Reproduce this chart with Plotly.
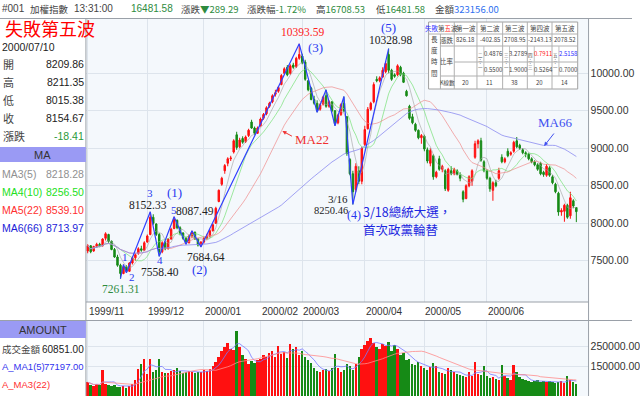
import plotly.graph_objects as go
import pandas as pd

W, H = 640, 396

# ---------------- data ----------------
month_labels = ["1999/11", "1999/12", "2000/01", "2000/02", "2000/03", "2000/04", "2000/05", "2000/06"]
month_days = [20, 19, 19, 14, 21, 20, 21, 22, 9]

opens = [7630, 7700, 7630, 7690, 7720, 7700, 7800, 7850, 7760, 7650, 7550, 7440, 7330, 7420, 7360, 7470, 7540, 7600, 7660, 7640,
         7750, 7850, 8080, 7990, 7850, 7620, 7740, 7660, 7790, 7930, 8040, 7940, 7870, 7800, 7740, 7830, 7880, 7790, 7710,
         7750, 7800, 7830, 7900, 8000, 8290, 8520, 8700, 8800, 8860, 8950, 9180, 9020, 9130, 9090, 9170, 9350, 9270, 9200,
         9300, 9400, 9460, 9560, 9620, 9720, 9760, 9850, 10000, 10080, 10000, 10110, 10090, 10200,
         10230, 10150, 9900, 9800, 9650, 9600, 9520, 9590, 9700, 9560, 9620, 9500, 9340, 9450, 9600, 9420, 8850, 8660, 8450, 8700, 8560,
         9050, 9260, 9520, 9620, 9920, 9900, 9950, 10020, 10250, 10040, 9980, 9980, 10080, 10000, 9760, 9560, 9420, 9320, 9240, 9140,
         9160, 8980, 8800, 8900, 8620, 8860, 8720, 8700, 8440, 8700, 8660, 8700, 8640, 8420, 8330, 8500, 8560, 8880, 9060, 9100, 8820,
         8700, 8600, 8440, 8540, 8600, 8880, 8820, 8960, 8920, 8960, 9100, 9040, 8980, 8940, 8920, 8860, 8820, 8780, 8800, 8680, 8640, 8740,
         8620, 8520, 8400, 8150, 8160, 8240, 8100, 8300, 8209.86]
highs = [7720, 7710, 7700, 7740, 7740, 7800, 7880, 7860, 7770, 7670, 7580, 7460, 7450, 7440, 7480, 7560, 7600, 7680, 7700, 7760,
         7850, 8152.33, 8120, 8000, 7870, 7760, 7760, 7800, 7940, 8087.49, 8050, 7960, 7880, 7820, 7850, 7900, 7890, 7800, 7760,
         7820, 7860, 7920, 8000, 8220, 8450, 8620, 8790, 8880, 8900, 9120, 9220, 9140, 9160, 9170, 9260, 9380, 9290, 9290,
         9410, 9470, 9560, 9620, 9720, 9780, 9830, 9990, 10080, 10110, 10120, 10140, 10220, 10393.59,
         10260, 10180, 9910, 9820, 9700, 9640, 9600, 9700, 9780, 9640, 9630, 9510, 9460, 9600, 9690, 9430, 8870, 8700, 8800, 8760, 9020,
         9300, 9550, 9620, 9880, 9960, 9960, 10080, 10160, 10328.98, 10060, 10000, 10120, 10100, 10020, 9780, 9580, 9460, 9340, 9250, 9190,
         9180, 9010, 9000, 8920, 8700, 8900, 8780, 8720, 8740, 8760, 8740, 8720, 8680, 8440, 8520, 8640, 8720, 9100, 9120, 9140, 8840,
         8720, 8620, 8560, 8580, 8740, 8920, 8880, 9000, 8960, 9100, 9150, 9060, 9000, 8960, 8940, 8880, 8840, 8800, 8820, 8700, 8790, 8760,
         8640, 8540, 8420, 8200, 8260, 8260, 8420, 8320, 8211.35]
lows = [7600, 7600, 7620, 7670, 7680, 7690, 7770, 7740, 7640, 7540, 7420, 7261.31, 7320, 7340, 7350, 7450, 7500, 7580, 7620, 7630,
        7740, 7840, 7980, 7830, 7558.40, 7600, 7640, 7650, 7780, 7920, 7920, 7840, 7780, 7720, 7730, 7800, 7780, 7690, 7684.64,
        7730, 7780, 7810, 7890, 7990, 8280, 8500, 8660, 8760, 8830, 8930, 8980, 9000, 9060, 9070, 9150, 9260, 9180, 9190,
        9290, 9380, 9440, 9540, 9600, 9690, 9740, 9840, 9990, 9960, 9980, 10060, 10070, 10180,
        10120, 9900, 9760, 9640, 9580, 9480, 9500, 9570, 9540, 9540, 9480, 9300, 9320, 9430, 9480, 8900, 8640, 8250.46, 8420, 8520, 8520,
        9030, 9250, 9500, 9600, 9880, 9880, 9940, 10000, 10000, 9900, 9940, 9960, 9960, 9870, 9690, 9380, 9320, 9220, 9120, 9060,
        8960, 8800, 8760, 8580, 8600, 8700, 8680, 8430, 8420, 8640, 8640, 8640, 8560, 8280, 8320, 8480, 8500, 8860, 9000, 8820, 8680,
        8580, 8420, 8300, 8480, 8580, 8800, 8800, 8880, 8900, 8940, 9000, 8980, 8920, 8880, 8840, 8800, 8760, 8700, 8640, 8620, 8620, 8620,
        8520, 8400, 8100, 8100, 8020, 8060, 8060, 8200, 8015.38]
closes = [7700, 7620, 7690, 7720, 7700, 7790, 7860, 7760, 7650, 7550, 7440, 7330, 7420, 7360, 7470, 7540, 7580, 7660, 7640, 7740,
          7830, 8080, 8000, 7850, 7620, 7740, 7660, 7790, 7920, 8050, 7940, 7870, 7800, 7740, 7830, 7880, 7790, 7710, 7750,
          7800, 7830, 7900, 7980, 8200, 8440, 8600, 8770, 8860, 8870, 9100, 9010, 9110, 9080, 9150, 9240, 9270, 9200, 9270,
          9390, 9450, 9540, 9600, 9700, 9740, 9810, 9970, 10060, 9980, 10100, 10080, 10200, 10250,
          10140, 9920, 9780, 9650, 9600, 9500, 9580, 9680, 9560, 9620, 9500, 9330, 9440, 9580, 9500, 8930, 8660, 8420, 8760, 8560, 9000,
          9250, 9520, 9600, 9850, 9900, 9940, 10040, 10130, 10040, 9920, 9960, 10100, 9980, 9880, 9700, 9400, 9340, 9240, 9140, 9170,
          8990, 8830, 8970, 8620, 8680, 8720, 8760, 8460, 8720, 8660, 8720, 8650, 8600, 8320, 8500, 8620, 8700, 9060, 9100, 8840, 8700,
          8600, 8460, 8540, 8500, 8700, 8820, 8860, 8900, 8940, 9080, 9020, 9000, 8940, 8920, 8860, 8820, 8780, 8720, 8660, 8650, 8760, 8640,
          8540, 8420, 8150, 8170, 8240, 8080, 8340, 8230, 8154.67]
volumes = [70000, 55000, 50000, 60000, 58000, 130000, 62000, 55000, 52000, 58000, 48000, 45000, 52000, 40000, 50000, 62000, 80000, 138000, 163000, 188000,
           113000, 190000, 120000, 130000, 190000, 120000, 115000, 118000, 125000, 130000, 140000, 125000, 118000, 120000, 125000, 120000, 118000, 122000, 120000,
           130000, 125000, 135000, 150000, 170000, 200000, 230000, 250000, 270000, 240000, 235000, 330000, 250000, 210000, 190000, 160000, 175000, 165000, 180000,
           190000, 210000, 200000, 220000, 230000, 200000, 255000, 215000, 225000, 195000, 265000, 240000, 250000, 210000,
           230000, 200000, 180000, 165000, 140000, 125000, 120000, 130000, 135000, 125000, 140000, 215000, 140000, 120000, 130000, 160000, 150000, 130000, 160000, 200000, 240000,
           260000, 280000, 295000, 270000, 250000, 240000, 265000, 255000, 275000, 230000, 260000, 240000, 210000, 220000, 180000, 190000, 160000, 155000, 170000, 150000,
           140000, 130000, 145000, 165000, 150000, 120000, 115000, 110000, 140000, 130000, 120000, 110000, 105000, 100000, 95000, 120000, 100000, 170000, 110000, 105000, 150000,
           100000, 90000, 95000, 85000, 80000, 155000, 100000, 90000, 80000, 155000, 120000, 95000, 85000, 80000, 75000, 70000, 75000, 80000, 72000, 75000, 70000, 78000,
           70000, 65000, 72000, 75000, 68000, 100000, 80000, 70000, 60851]

wave_idx = [11, 12, 13, 21, 24, 29, 33, 35, 38, 71, 77, 80, 83, 86, 89, 101]
wave_val = [7261.31, 7450, 7340, 8152.33, 7558.40, 8087.49, 7720, 7900, 7684.64, 10393.59, 9480, 9780, 9300, 9690, 8250.46, 10328.98]

price_ticks = [7500, 8000, 8500, 9000, 9500, 10000]
vol_ticks = [150000, 250000]

# ---------------- helpers ----------------
idx = list(range(len(closes)))
month_start = [sum(month_days[:k]) for k in range(len(month_labels))]
SANS = "Liberation Sans, Arial, sans-serif"
SERIF = "Liberation Serif, Times New Roman, serif"
CJK = "Noto Sans CJK TC, Noto Sans CJK SC, sans-serif"

def px(x):
    return x / W

def py(y):
    return 1 - y / H

fig = go.Figure()

fig.add_trace(go.Candlestick(
    x=idx, open=opens, high=highs, low=lows, close=closes,
    increasing=dict(line=dict(color="#ff1010", width=1), fillcolor="#ff1010"),
    decreasing=dict(line=dict(color="#168a16", width=1), fillcolor="#168a16"),
    whiskerwidth=0, showlegend=False, hoverinfo="skip", xaxis="x", yaxis="y"))

cs = pd.Series(closes)
for n, col in [(5, "rgba(160,160,160,0.6)"), (10, "rgba(120,225,120,0.7)"),
               (22, "rgba(240,140,140,0.7)"), (66, "rgba(140,140,240,0.8)")]:
    fig.add_trace(go.Scatter(x=idx, y=cs.rolling(n, min_periods=1).mean(), mode="lines",
                             line=dict(color=col, width=1), showlegend=False, hoverinfo="skip",
                             xaxis="x", yaxis="y"))

fig.add_trace(go.Scatter(x=wave_idx, y=wave_val, mode="lines", line=dict(color="#3040ff", width=1.2),
                         showlegend=False, hoverinfo="skip", xaxis="x", yaxis="y"))

vcol = ["#ff1010" if c >= o else "#168a16" for o, c in zip(opens, closes)]
fig.add_trace(go.Bar(x=idx, y=volumes, marker=dict(color=vcol, line=dict(width=0)), width=0.62,
                     showlegend=False, hoverinfo="skip", xaxis="x2", yaxis="y2"))
vs = pd.Series(volumes)
fig.add_trace(go.Scatter(x=idx, y=vs.rolling(5, min_periods=1).mean(), mode="lines",
                         line=dict(color="rgba(120,120,255,0.8)", width=1), showlegend=False,
                         hoverinfo="skip", xaxis="x2", yaxis="y2"))
fig.add_trace(go.Scatter(x=idx, y=vs.rolling(22, min_periods=1).mean(), mode="lines",
                         line=dict(color="rgba(255,140,140,0.8)", width=1), showlegend=False,
                         hoverinfo="skip", xaxis="x2", yaxis="y2"))

xr = [-0.6, 168.1]
grid = "#dde4ec"
fig.update_layout(
    width=W, height=H, margin=dict(l=0, r=0, t=0, b=0),
    paper_bgcolor="white", plot_bgcolor="#f4f8fc",
    bargap=0, showlegend=False,
    xaxis=dict(domain=[px(87), px(596)], range=xr, tickvals=month_start, showticklabels=False,
               showgrid=True, gridcolor=grid, zeroline=False, rangeslider=dict(visible=False),
               anchor="y", ticks=""),
    yaxis=dict(domain=[py(302), py(19)], range=[6950, 10724], autorange=False, side="right",
               tickvals=price_ticks, ticktext=[f"{v:.2f}" for v in price_ticks],
               tickfont=dict(family=SANS, size=10.5, color="#333"), showgrid=True, gridcolor=grid,
               zeroline=False, anchor="x", ticks="", ticklabelstandoff=1),
    xaxis2=dict(domain=[px(87), px(596)], range=xr, tickvals=month_start, showticklabels=False,
                showgrid=True, gridcolor=grid, zeroline=False, anchor="y2", ticks=""),
    yaxis2=dict(domain=[0, py(321)], range=[0, 380000], autorange=False, side="right",
                tickvals=vol_ticks, ticktext=[f"{v:.2f}" for v in vol_ticks],
                tickfont=dict(family=SANS, size=10.5, color="#333"), showgrid=True, gridcolor=grid,
                zeroline=False, anchor="x2", ticks="", ticklabelstandoff=1),
)

shapes = []
def line(x0, y0, x1, y1, color="#9aa0a8", width=1):
    shapes.append(dict(type="line", xref="paper", yref="paper", x0=px(x0), y0=py(y0), x1=px(x1), y1=py(y1),
                       line=dict(color=color, width=width)))

def rect(x0, y0, x1, y1, fill, border=None):
    shapes.append(dict(type="rect", xref="paper", yref="paper", x0=px(x0), y0=py(y0), x1=px(x1), y1=py(y1),
                       fillcolor=fill, line=dict(color=border or fill, width=1 if border else 0), layer="above"))

line(0, 18.5, 640, 18.5)
line(87, 18.5, 87, 396)
line(596, 18.5, 596, 396)
line(87, 302, 596, 302)
line(0, 320.5, 640, 320.5)
rect(0, 147, 87, 162, "#9a9af4")
rect(0, 321, 87, 338, "#9a9af4")

# table frame
tx = [434, 446, 460, 483, 509, 534, 559, 585]
ty = [22, 34, 46, 62, 76, 89]
rect(tx[0], ty[0], tx[-1], ty[-1], "white", "#a0a0a0")
line(tx[0], ty[1], tx[-1], ty[1], "#b0b0b0")
line(tx[1], ty[2], tx[-1], ty[2], "#b0b0b0")
line(tx[2], ty[3], tx[-1], ty[3], "#b0b0b0")
line(tx[1], ty[4], tx[-1], ty[4], "#b0b0b0")
for k, xx in enumerate(tx[1:-1], start=1):
    line(xx, ty[1] if k == 1 else ty[0], xx, ty[-1], "#b0b0b0")
for xx in tx[3:7]:
    line(xx + 7, ty[2], xx + 7, ty[4], "#c0c0c0")
fig.update_layout(shapes=shapes)

def txt(x, y, s, size=10.5, color="#333", anchor="left", font=SANS):
    fig.add_annotation(x=px(x), y=py(y), xref="paper", yref="paper", text=s, showarrow=False,
                       xanchor=anchor, yanchor="middle", borderpad=0,
                       font=dict(size=size, color=color, family=font))

def dtxt(i, v, s, dx, dy, size=11, color="#222", font=SERIF):
    fig.add_annotation(x=i, y=v, xref="x", yref="y", text=s, showarrow=False, xshift=dx, yshift=dy,
                       borderpad=0, font=dict(size=size, color=color, family=font))

# header
G = "#2e8b3e"
txt(1, 9, "#001", 10, "#444")
txt(29, 9, "加權指數", 9.5, "#444", font=CJK)
txt(74, 9, "13:31:00", 10, "#444")
txt(132, 9, "16481.58", 10, G)
txt(182, 9, "漲跌<span style='color:#2e8b3e'>▼289.29</span>", 9.5, "#444", font=CJK)
txt(249, 9, "漲跌幅<span style='color:#2e8b3e'>-1.72%</span>", 9.5, "#444", font=CJK)
txt(319, 9, "高<span style='color:#2e8b3e'>16708.53</span>", 9.5, "#444", font=CJK)
txt(380, 9, "低<span style='color:#2e8b3e'>16481.58</span>", 9.5, "#444", font=CJK)
txt(439, 9, "金額<span style='color:#3070f0'>323156.00</span>", 9.5, "#444", font=CJK)

# left panel
txt(4, 28, "失敗第五波", 18, "#ff0000", font=CJK)
txt(1, 47.5, "2000/07/10", 10.5, "#222")
info = [("開", "8209.86", "#222"), ("高", "8211.35", "#222"), ("低", "8015.38", "#222"),
        ("收", "8154.67", "#222"), ("漲跌", "-18.41", "#2a9a3a")]
for k, (lab, val, c) in enumerate(info):
    yy = 64 + 18 * k
    txt(2, yy, lab, 11, "#444", font=CJK)
    txt(86, yy, val, 10.5, c, anchor="right")
txt(43.5, 155, "MA", 11, "#333", anchor="center")
mas = [("MA3(5)", "8218.28", "#909090"), ("MA4(10)", "8256.50", "#22e022"),
       ("MA5(22)", "8539.10", "#ff3030"), ("MA6(66)", "8713.97", "#1c1cd8")]
for k, (lab, val, c) in enumerate(mas):
    yy = 174 + 18 * k
    txt(1, yy, lab, 10.5, c)
    txt(86, yy, val, 10.5, c, anchor="right")
txt(43.5, 330, "AMOUNT", 11, "#333", anchor="center")
txt(1, 349, "成交金額", 9.5, "#444", font=CJK)
txt(86, 349, "60851.00", 10, "#222", anchor="right")
txt(1, 366, "A_MA1(5)", 9.5, "#3333ee")
txt(86, 366, "77197.00", 9.5, "#3333ee", anchor="right")
txt(1, 384, "A_MA3(22)", 9.5, "#ff3030")

# month labels
for ms, lab in zip(month_start, month_labels):
    fig.add_annotation(x=ms, y=py(311), xref="x", yref="paper", text=lab, showarrow=False,
                       xanchor="left", yanchor="middle", xshift=-1,
                       font=dict(size=10, color="#333", family=SANS))

# wave annotations
B = "#2838f0"
dtxt(71, 10393.59, "10393.59", 3, 12, 11.5, "#ff2020")
dtxt(71, 10393.59, "(3)", 16, -4, 13, B)
dtxt(101, 10328.98, "(5)", 0, 21, 13, B)
dtxt(101, 10328.98, "10328.98", 2, 9, 11.5)
dtxt(21, 8152.33, "3", 0, 19, 11, B)
dtxt(21, 8152.33, "8152.33", -2, 7, 11.5)
dtxt(29, 8087.49, "(1)", 0, 24, 13, B)
dtxt(29, 8087.49, "5", 0, 7, 11, B)
dtxt(29, 8087.49, "8087.49", 21, 6, 11.5)
dtxt(11, 7261.31, "7261.31", 1, -10, 11.5, "#2e8b3e")
dtxt(12, 7450, "1", 2, 8, 11, B)
dtxt(13, 7340, "2", 6, -4, 11, B)
dtxt(24, 7558.40, "4", 1, -4, 11, B)
dtxt(24, 7558.40, "7558.40", 1, -16, 11.5)
dtxt(38, 7684.64, "7684.64", 5, -10, 11.5)
dtxt(38, 7684.64, "(2)", -1, -23, 13, B)
dtxt(89, 8250.46, "(4)", 1, -11, 12, B)
dtxt(89, 8250.46, "3/16", -15, 5, 11)
dtxt(89, 8250.46, "8250.46", -22, -6, 10.5)

txt(367, 211, "3/18總統大選，", 12.5, "#1c28e0", font=CJK)
txt(367, 229, "首次政黨輪替", 12.5, "#1c28e0", font=CJK)
txt(316, 139, "MA22", 13, "#f03030", anchor="center", font=SERIF)
txt(562, 122, "MA66", 13, "#4050f0", anchor="center", font=SERIF)
fig.add_annotation(x=px(286), y=py(131), xref="paper", yref="paper", ax=11, ay=6, text="",
                   showarrow=True, arrowhead=2, arrowsize=0.8, arrowwidth=1, arrowcolor="#f03030")
fig.add_annotation(x=px(551), y=py(146), xref="paper", yref="paper", ax=11, ay=-14, text="",
                   showarrow=True, arrowhead=2, arrowsize=0.8, arrowwidth=1, arrowcolor="#4050f0")

# table text
TS = 6.5
def ctext(x0, x1, y0, y1, s, color="#444", size=TS):
    txt((x0 + x1) / 2, (y0 + y1) / 2, s, size, color, anchor="center", font=CJK)

ctext(tx[0], tx[2], ty[0], ty[1], "<span style='color:#3030ff'>失敗</span>第<span style='color:#ff2020'>五</span>波")
for k, lab in enumerate(["第一波", "第二波", "第三波", "第四波", "第五波"]):
    ctext(tx[k + 2], tx[k + 3], ty[0], ty[1], lab)
for k, val in enumerate(["826.18", "-402.85", "2708.95", "-2143.13", "2078.52"]):
    ctext(tx[k + 2], tx[k + 3], ty[1], ty[2], val, size=6)
for k, ch in enumerate(["長", "度", "時", "間"]):
    ctext(tx[0], tx[1], ty[1] + 11 * k, ty[1] + 11 * (k + 1), ch)
ctext(tx[1], tx[2], ty[1], ty[2], "漲跌")
ctext(tx[1], tx[2], ty[2], ty[4], "比率")
ctext(tx[1], tx[2], ty[4], ty[5], "K線數", size=5.5)
ratio_labels = ["二<br>÷<br>一", "三<br>÷<br>一", "四<br>÷<br>三", "五<br>÷<br>一"]
ratio_up = [("0.4876", "#444"), ("3.2789", "#444"), ("0.7911", "#ff2020"), ("2.5158", "#3030ff")]
ratio_dn = ["0.5500", "1.9000", "0.5264", "0.7000"]
for k in range(4):
    x0 = tx[k + 3]
    ctext(x0, x0 + 7, ty[2], ty[4], ratio_labels[k], size=4.5)
    ctext(x0 + 7, tx[k + 4], ty[2], ty[3], ratio_up[k][0], ratio_up[k][1], size=6)
    ctext(x0 + 7, tx[k + 4], ty[3], ty[4], ratio_dn[k], size=6)
for k, val in enumerate(["20", "11", "38", "20", "14"]):
    ctext(tx[k + 2], tx[k + 3], ty[4], ty[5], val, size=6)

fig.write_html("out.html", config={"displayModeBar": False},
               post_script="document.body.style.margin='0';document.body.style.overflow='hidden';")
